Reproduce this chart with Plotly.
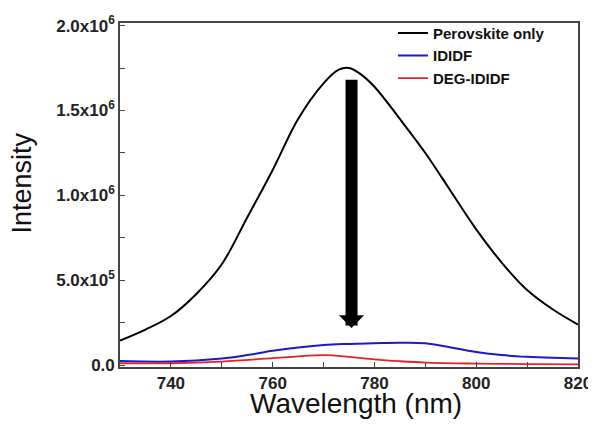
import plotly.graph_objects as go

wl_black = [730, 735, 740, 745, 750, 755, 760, 765, 770, 773, 775, 777, 780, 785, 790, 795, 800, 805, 810, 815, 820]
perovskite = [0.145e6, 0.21e6, 0.29e6, 0.42e6, 0.595e6, 0.87e6, 1.15e6, 1.45e6, 1.66e6, 1.74e6, 1.75e6, 1.72e6, 1.64e6, 1.45e6, 1.25e6, 1.025e6, 0.80e6, 0.605e6, 0.443e6, 0.33e6, 0.24e6]

wl_blue = [730, 740, 750, 755, 760, 765, 770, 775, 780, 785, 790, 795, 800, 805, 810, 815, 820]
ididf = [0.025e6, 0.022e6, 0.04e6, 0.06e6, 0.085e6, 0.105e6, 0.12e6, 0.126e6, 0.13e6, 0.133e6, 0.13e6, 0.105e6, 0.078e6, 0.06e6, 0.05e6, 0.044e6, 0.04e6]

wl_red = [730, 740, 750, 760, 765, 770, 775, 780, 785, 790, 800, 810, 820]
deg_ididf = [0.012e6, 0.012e6, 0.022e6, 0.042e6, 0.053e6, 0.06e6, 0.05e6, 0.035e6, 0.024e6, 0.016e6, 0.01e6, 0.007e6, 0.005e6]

y_tickvals = [0, 0.5e6, 1.0e6, 1.5e6, 2.0e6]
y_ticktext = ["0.0", "5.0x10<sup>5</sup>", "1.0x10<sup>6</sup>", "1.5x10<sup>6</sup>", "2.0x10<sup>6</sup>"]
x_tickvals = [740, 760, 780, 800, 820]
x_title = "Wavelength (nm)"
y_title = "Intensity"

arrow_x = 775.5
arrow_top = 1.69e6
arrow_tip = 0.22e6

FONT = "Liberation Sans, Arial, sans-serif"

fig = go.Figure()
fig.add_trace(go.Scatter(x=wl_black, y=perovskite, mode="lines", name="Perovskite only",
                         line=dict(color="black", width=2, shape="spline")))
fig.add_trace(go.Scatter(x=wl_blue, y=ididf, mode="lines", name="IDIDF",
                         line=dict(color="#1a1acc", width=2, shape="spline")))
fig.add_trace(go.Scatter(x=wl_red, y=deg_ididf, mode="lines", name="DEG-IDIDF",
                         line=dict(color="#e8202a", width=1.8, shape="spline")))

fig.add_annotation(x=arrow_x, y=arrow_tip, ax=arrow_x, ay=arrow_top, xref="x", yref="y",
                   axref="x", ayref="y", showarrow=True, arrowhead=1, arrowsize=0.35,
                   arrowwidth=12, arrowcolor="black", text="")

# axis titles
fig.add_annotation(text=x_title, xref="paper", yref="paper", x=0.515, y=-0.107,
                   xanchor="center", yanchor="middle", showarrow=False,
                   font=dict(family=FONT, size=28, color="#111"))
fig.add_annotation(text=y_title, xref="paper", yref="paper", x=-0.215, y=0.535,
                   xanchor="center", yanchor="middle", showarrow=False, textangle=-90,
                   font=dict(family=FONT, size=27, color="#111"))

axis_common = dict(showline=True, linecolor="#444", linewidth=1.6, mirror=True,
                   ticks="inside", ticklen=5, tickwidth=1.3, tickcolor="#444",
                   showgrid=False, zeroline=False, automargin=False,
                   ticklabeloverflow="allow",
                   tickfont=dict(family=FONT, size=17, color="#222", weight="bold"))

fig.update_layout(
    width=588, height=413,
    margin=dict(l=112, r=18, t=15, b=54, autoexpand=False),
    paper_bgcolor="white", plot_bgcolor="white",
    showlegend=True,
    legend=dict(x=0.596, y=1.018, xanchor="left", yanchor="top", bgcolor="rgba(0,0,0,0)",
                font=dict(family=FONT, size=15, color="#111", weight="bold"),
                tracegroupgap=0, itemwidth=30),
    xaxis=dict(range=[730, 820], tickvals=x_tickvals,
               minor=dict(ticks="inside", dtick=10, tick0=730, ticklen=5, tickcolor="#444"),
               **axis_common),
    yaxis=dict(range=[-0.01e6, 2.015e6], tickvals=y_tickvals, ticktext=y_ticktext,
               minor=dict(ticks="inside", dtick=0.25e6, tick0=0, ticklen=5, tickcolor="#444"),
               **axis_common),
)

fig.write_html("out.html")
